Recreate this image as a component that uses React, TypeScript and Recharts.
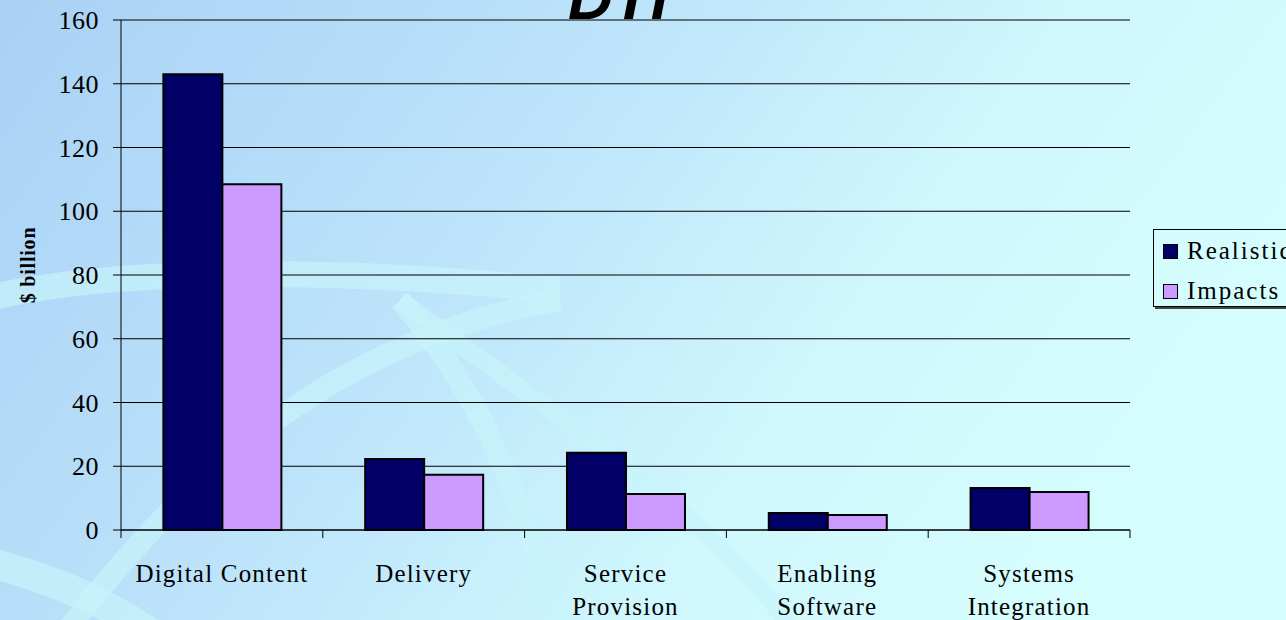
import React from "react";
import { BarChart, Bar, XAxis, YAxis, CartesianGrid } from "recharts";

const categories = ["Digital Content", "Delivery", "Service Provision", "Enabling Software", "Systems Integration"];
const categoryLabelLines = [["Digital Content"], ["Delivery"], ["Service", "Provision"], ["Enabling", "Software"], ["Systems", "Integration"]];
const realisticValues = [143, 22.3, 24.2, 5.3, 13.2];
const impactsValues = [108.5, 17.3, 11.3, 4.7, 11.9];
const seriesNames = ["Realistic", "Impacts"];
const seriesColors = ["#000066", "#cc99ff"];
const yTicks = [0, 20, 40, 60, 80, 100, 120, 140, 160];
const titleText = "DTI";
const yAxisTitle = "$ billion";

const data = categories.map((c, i) => ({
  name: c,
  realistic: realisticValues[i],
  impacts: impactsValues[i],
}));

const SERIF = "'Liberation Serif', 'Times New Roman', serif";

const XTick = (props: any) => {
  const { x, y, payload, index } = props;
  const off = payload && typeof payload.offset === "number" ? payload.offset : 100.9;
  const lines = categoryLabelLines[index] || [String(payload.value)];
  const last = index === categories.length - 1;
  return (
    <g>
      <line x1={x - off} x2={x - off} y1={y - 8} y2={y} stroke="#000" strokeWidth={1} />
      {last && <line x1={x + off} x2={x + off} y1={y - 8} y2={y} stroke="#000" strokeWidth={1} />}
      {lines.map((ln: string, k: number) => (
        <text
          key={k}
          x={x}
          y={y + 44 + k * 33}
          textAnchor="middle"
          fontFamily={SERIF}
          fontSize={25}
          letterSpacing={1.2}
          fill="#000"
        >
          {ln}
        </text>
      ))}
    </g>
  );
};

const YTitle = (props: any) => {
  const vb = props.viewBox || { x: 0, y: 20, width: 121, height: 510 };
  const cx = vb.x + 28;
  const cy = vb.y + vb.height / 2 - 10;
  return (
    <text
      x={cx}
      y={cy}
      transform={`rotate(-90 ${cx} ${cy})`}
      textAnchor="middle"
      dominantBaseline="central"
      fontFamily={SERIF}
      fontSize={20}
      fontWeight="bold"
      letterSpacing={0.8}
      fill="#000"
    >
      {yAxisTitle}
    </text>
  );
};

const Background = () => (
  <svg width={1286} height={620} style={{ position: "absolute", left: 0, top: 0 }}>
    <defs>
      <linearGradient id="bg" x1="0" y1="0" x2="1" y2="0.35">
        <stop offset="0" stopColor="#a9d1f5" />
        <stop offset="0.45" stopColor="#bde4fa" />
        <stop offset="0.75" stopColor="#cff7fd" />
        <stop offset="1" stopColor="#d6fdfd" />
      </linearGradient>
    </defs>
    <rect x={0} y={0} width={1286} height={620} fill="url(#bg)" />
    <g fill="none" stroke="#c6f3fb" strokeOpacity={0.7}>
      <path d="M -20 300 C 100 270, 300 265, 560 290" strokeWidth={26} />
      <path d="M 60 640 C 180 480, 330 340, 560 300" strokeWidth={22} />
      <path d="M 400 300 C 470 380, 520 480, 560 640" strokeWidth={22} />
      <path d="M 400 300 C 560 420, 720 520, 800 640" strokeWidth={18} />
      <path d="M -20 560 C 60 580, 120 610, 160 640" strokeWidth={30} />
    </g>
  </svg>
);

export default function App() {
  return (
    <div style={{ position: "absolute", left: 0, top: 0, width: 1286, height: 620, overflow: "hidden" }}>
      <Background />
      <div style={{ position: "absolute", left: 0, top: 0 }}>
        <BarChart
          width={1286}
          height={620}
          data={data}
          margin={{ top: 20, right: 156, bottom: 0, left: 0 }}
          barCategoryGap="21%"
          barGap={0}
        >
          <CartesianGrid horizontal={true} vertical={false} stroke="#000" />
          <XAxis
            dataKey="name"
            height={90}
            interval={0}
            tickLine={false}
            tickSize={8}
            tickMargin={0}
            axisLine={{ stroke: "#000" }}
            tick={<XTick />}
          />
          <YAxis
            width={121}
            domain={[0, 160]}
            ticks={yTicks}
            interval={0}
            tickSize={8}
            tickMargin={14}
            axisLine={{ stroke: "#000" }}
            tickLine={{ stroke: "#000" }}
            tick={{ fontFamily: SERIF, fontSize: 26, fill: "#000", letterSpacing: 0.5 }}
            label={<YTitle />}
          />
          <Bar dataKey="realistic" name={seriesNames[0]} fill={seriesColors[0]} stroke="#000" strokeWidth={2} isAnimationActive={false} />
          <Bar dataKey="impacts" name={seriesNames[1]} fill={seriesColors[1]} stroke="#000" strokeWidth={2} isAnimationActive={false} />
        </BarChart>
      </div>
      <svg width={1286} height={40} style={{ position: "absolute", left: 0, top: 0, pointerEvents: "none" }}>
        <text x={568} y={19} fontFamily="'Liberation Sans', Arial, sans-serif" fontStyle="italic" fontWeight="bold" fontSize={62} fill="#000">
          {titleText}
        </text>
      </svg>
      <div
        style={{
          position: "absolute",
          left: 1153,
          top: 229,
          width: 180,
          height: 76,
          border: "1px solid #000",
          boxShadow: "2px 2px 0 #444",
          fontFamily: SERIF,
          fontSize: 25,
          letterSpacing: 2,
          color: "#000",
        }}
      >
        {seriesNames.map((n, i) => (
          <div key={n} style={{ position: "absolute", left: 9, top: 7 + i * 40, display: "flex", alignItems: "center", whiteSpace: "nowrap" }}>
            <span style={{ display: "inline-block", width: 13, height: 13, background: seriesColors[i], border: "1px solid #000", marginRight: 9 }} />
            <span>{n}</span>
          </div>
        ))}
      </div>
    </div>
  );
}
